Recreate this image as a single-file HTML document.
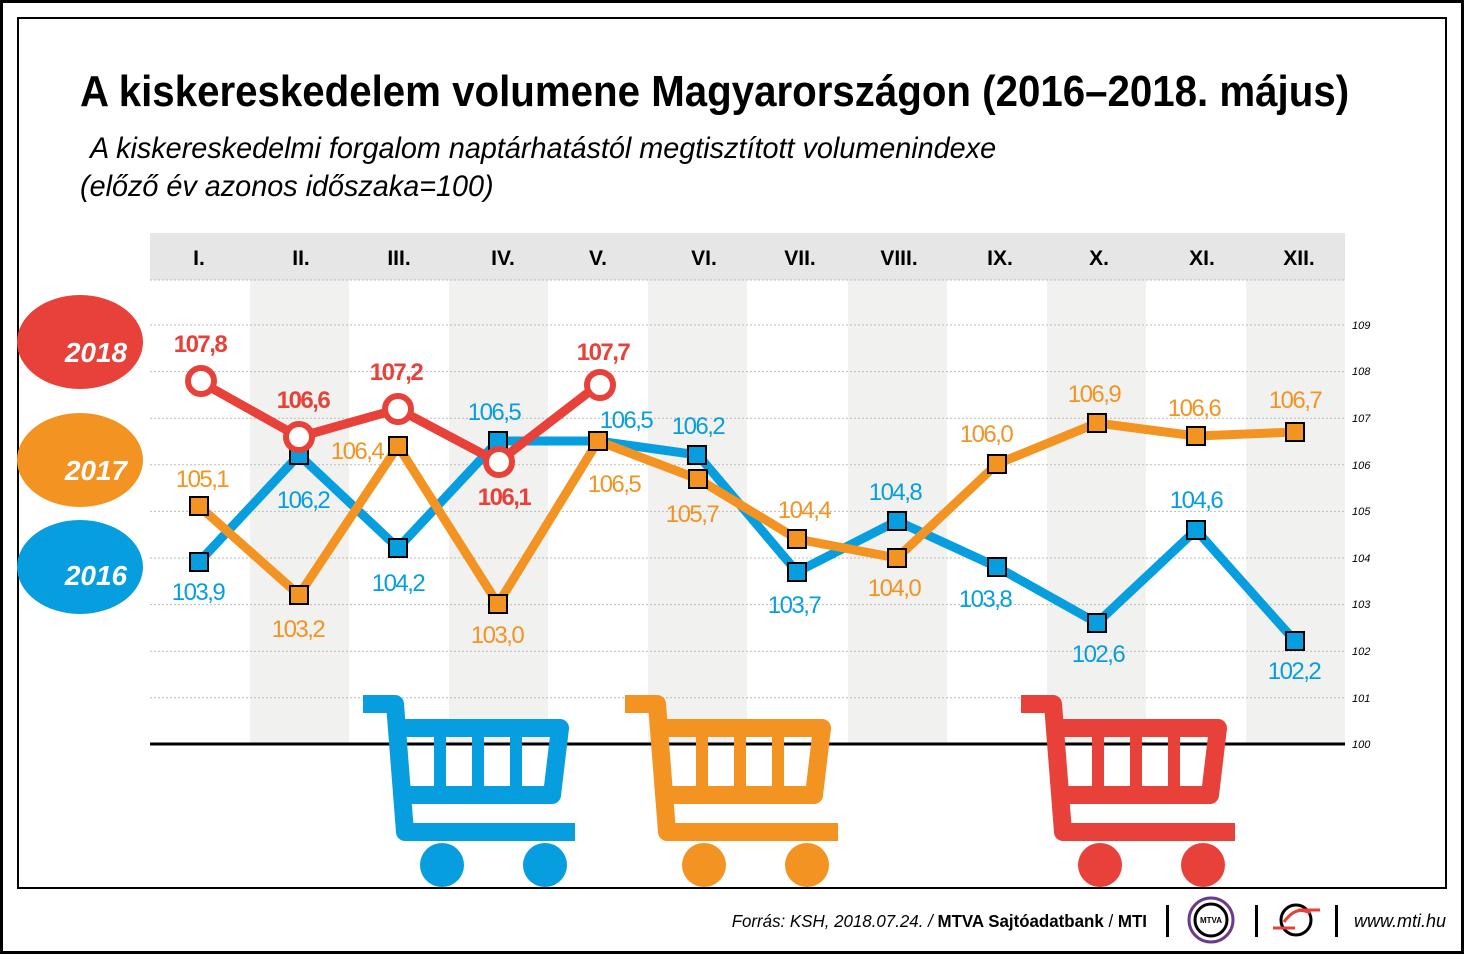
<!DOCTYPE html>
<html><head><meta charset="utf-8"><style>
body{margin:0;background:#fff}
svg{display:block}
text{font-family:"Liberation Sans",sans-serif}
</style></head><body>
<svg width="1464" height="954" viewBox="0 0 1464 954">
<rect x="1.5" y="1.5" width="1461" height="951" fill="#fff" stroke="#000" stroke-width="3"/>
<rect x="18" y="18" width="1428" height="870" fill="#fff" stroke="#000" stroke-width="2"/>
<text x="80" y="106" font-size="44" font-weight="bold" transform="translate(80 0) scale(0.915 1) translate(-80 0)">A kiskereskedelem volumene Magyarországon (2016–2018. május)</text>
<text x="90" y="158" font-size="30" font-style="italic" transform="translate(90 0) scale(0.96 1) translate(-90 0)">A kiskereskedelmi forgalom naptárhatástól megtisztított volumenindexe</text>
<text x="80" y="196" font-size="30" font-style="italic" transform="translate(80 0) scale(0.96 1) translate(-80 0)">(előző év azonos időszaka=100)</text>
<rect x="150" y="233" width="1195" height="47" fill="#e6e6e6"/>
<g fill="#f1f1f0">
<rect x="250" y="280" width="99" height="464"/><rect x="449" y="280" width="99" height="464"/>
<rect x="648" y="280" width="99" height="464"/><rect x="848" y="280" width="99" height="464"/>
<rect x="1047" y="280" width="99" height="464"/><rect x="1246" y="280" width="99" height="464"/>
</g>
<g stroke="#bbb" stroke-width="1" stroke-dasharray="2 2">
<line x1="150" x2="1345" y1="325" y2="325"/><line x1="150" x2="1345" y1="371.6" y2="371.6"/>
<line x1="150" x2="1345" y1="418.2" y2="418.2"/><line x1="150" x2="1345" y1="464.8" y2="464.8"/>
<line x1="150" x2="1345" y1="511.4" y2="511.4"/><line x1="150" x2="1345" y1="558" y2="558"/>
<line x1="150" x2="1345" y1="604.6" y2="604.6"/><line x1="150" x2="1345" y1="651.2" y2="651.2"/>
<line x1="150" x2="1345" y1="697.8" y2="697.8"/><line x1="150" x2="1345" y1="280" y2="280"/>
</g>
<line x1="150" x2="1345" y1="744" y2="744" stroke="#000" stroke-width="3"/>
<g font-size="11" font-style="italic">
<text x="1352" y="329">109</text><text x="1352" y="375">108</text><text x="1352" y="422">107</text>
<text x="1352" y="469">106</text><text x="1352" y="515">105</text><text x="1352" y="562">104</text>
<text x="1352" y="608">103</text><text x="1352" y="655">102</text><text x="1352" y="702">101</text>
<text x="1352" y="748">100</text>
</g>
<g font-size="21" font-weight="bold" text-anchor="middle">
<text x="199" y="265">I.</text><text x="301" y="265">II.</text><text x="399" y="265">III.</text>
<text x="503" y="265">IV.</text><text x="598" y="265">V.</text><text x="704" y="265">VI.</text>
<text x="800" y="265">VII.</text><text x="899" y="265">VIII.</text><text x="1000" y="265">IX.</text>
<text x="1099" y="265">X.</text><text x="1202" y="265">XI.</text><text x="1299" y="265">XII.</text>
</g>
<ellipse cx="80" cy="342" rx="63" ry="47" fill="#e8413a"/>
<ellipse cx="80" cy="460" rx="63" ry="47" fill="#f39422"/>
<ellipse cx="80" cy="567" rx="63" ry="47" fill="#079ee0"/>
<g fill="#fff" font-size="28" font-weight="bold" font-style="italic" text-anchor="middle">
<text x="96" y="362">2018</text><text x="96" y="480">2017</text><text x="96" y="585">2016</text>
</g>
<g stroke="#079ee0" fill="none" stroke-width="18" stroke-linejoin="round">
<path d="M363 704 H395 L405 832 H575"/><path d="M403 728 H560 L552 795 H407"/>
<path d="M440 728 V795 M478 728 V795 M516 728 V795" stroke-width="12"/>
</g>
<circle cx="442" cy="865" r="22" fill="#079ee0"/><circle cx="545" cy="865" r="22" fill="#079ee0"/>
<g stroke="#f39422" fill="none" stroke-width="18" stroke-linejoin="round">
<path d="M625 704 H657 L667 832 H838"/><path d="M665 728 H822 L814 795 H669"/>
<path d="M702 728 V795 M740 728 V795 M778 728 V795" stroke-width="12"/>
</g>
<circle cx="704" cy="865" r="22" fill="#f39422"/><circle cx="807" cy="865" r="22" fill="#f39422"/>
<g stroke="#e8413a" fill="none" stroke-width="18" stroke-linejoin="round">
<path d="M1021 704 H1053 L1063 832 H1235"/><path d="M1061 728 H1218 L1210 795 H1065"/>
<path d="M1098 728 V795 M1136 728 V795 M1174 728 V795" stroke-width="12"/>
</g>
<circle cx="1100" cy="865" r="22" fill="#e8413a"/><circle cx="1203" cy="865" r="22" fill="#e8413a"/>
<rect x="19" y="887" width="1426" height="2" fill="#000"/>
<polyline fill="none" stroke="#079ee0" stroke-width="9" stroke-linejoin="round" points="199,562 299,455 398,548 498,441 598,441 698,455 797,572 897,521 997,567 1097,623 1196,530 1295,641"/>
<polyline fill="none" stroke="#f39422" stroke-width="9" stroke-linejoin="round" points="199,506 299,595 398,446 498,604 598,441 698,479 797,539 897,558 997,464 1097,423 1196,436 1295,432"/>
<g stroke="#000" stroke-width="2" fill="#079ee0">
<rect x="190" y="553" width="18" height="18"/><rect x="290" y="446" width="18" height="18"/><rect x="389" y="539" width="18" height="18"/><rect x="489" y="432" width="18" height="18"/><rect x="688" y="446" width="18" height="18"/><rect x="788" y="563" width="18" height="18"/><rect x="888" y="512" width="18" height="18"/><rect x="988" y="558" width="18" height="18"/><rect x="1088" y="614" width="18" height="18"/><rect x="1187" y="521" width="18" height="18"/><rect x="1286" y="632" width="18" height="18"/>
</g>
<g stroke="#000" stroke-width="2" fill="#f39422">
<rect x="190" y="497" width="18" height="18"/><rect x="290" y="586" width="18" height="18"/><rect x="389" y="437" width="18" height="18"/><rect x="489" y="595" width="18" height="18"/><rect x="589" y="432" width="18" height="18"/><rect x="689" y="470" width="18" height="18"/><rect x="788" y="530" width="18" height="18"/><rect x="888" y="549" width="18" height="18"/><rect x="988" y="455" width="18" height="18"/><rect x="1088" y="414" width="18" height="18"/><rect x="1187" y="427" width="18" height="18"/><rect x="1286" y="423" width="18" height="18"/>
</g>
<polyline fill="none" stroke="#e8413a" stroke-width="9" stroke-linejoin="round" points="199,381 299,437 398,409 498,462 598,385"/>
<g fill="#fff" stroke="#e8413a" stroke-width="6">
<circle cx="201" cy="381" r="13"/><circle cx="299" cy="437" r="13"/><circle cx="398" cy="409" r="13"/><circle cx="499" cy="462" r="13"/><circle cx="600" cy="385" r="13"/>
</g>
<g font-size="24" text-anchor="middle" letter-spacing="-1.5">
<g fill="#e8413a" font-weight="bold">
<text x="200" y="352">107,8</text><text x="303" y="408">106,6</text><text x="396" y="380">107,2</text><text x="504" y="505">106,1</text><text x="603" y="360">107,7</text>
</g>
<g fill="#079ee0">
<text x="198" y="600">103,9</text><text x="303" y="508">106,2</text><text x="398" y="591">104,2</text><text x="494" y="420">106,5</text><text x="626" y="428">106,5</text><text x="698" y="434">106,2</text><text x="794" y="613">103,7</text><text x="895" y="500">104,8</text><text x="985" y="607">103,8</text><text x="1098" y="662">102,6</text><text x="1196" y="508">104,6</text><text x="1294" y="679">102,2</text>
</g>
<g fill="#f39422">
<text x="202" y="487">105,1</text><text x="298" y="637">103,2</text><text x="357" y="459">106,4</text><text x="497" y="643">103,0</text><text x="614" y="492">106,5</text><text x="692" y="522">105,7</text><text x="804" y="518">104,4</text><text x="894" y="596">104,0</text><text x="986" y="442">106,0</text><text x="1094" y="402">106,9</text><text x="1194" y="416">106,6</text><text x="1295" y="408">106,7</text>
</g>
</g>
<text x="1147" y="927" font-size="18" text-anchor="end" transform="translate(1147 0) scale(0.94 1) translate(-1147 0)"><tspan font-style="italic">Forrás: KSH, 2018.07.24. / </tspan><tspan font-weight="bold">MTVA Sajtóadatbank</tspan> / <tspan font-weight="bold">MTI</tspan></text>
<rect x="1166" y="905" width="3" height="32" fill="#000"/>
<circle cx="1211" cy="920" r="22" fill="none" stroke="#6b3a8e" stroke-width="3"/>
<circle cx="1211" cy="920" r="16" fill="none" stroke="#000" stroke-width="3"/>
<text x="1211" y="923" font-size="8" font-weight="bold" text-anchor="middle">MTVA</text>
<rect x="1255" y="905" width="3" height="32" fill="#000"/>
<circle cx="1296" cy="920" r="15" fill="none" stroke="#000" stroke-width="3"/>
<path d="M1273 928 H1295 M1298 910 H1320" stroke="#e8413a" stroke-width="3"/>
<path d="M1284 922 Q1296 905 1310 913" stroke="#e8413a" stroke-width="3" fill="none"/>
<rect x="1335" y="905" width="3" height="32" fill="#000"/>
<text x="1446" y="927" font-size="18" font-style="italic" text-anchor="end">www.mti.hu</text>
</svg>
</body></html>
